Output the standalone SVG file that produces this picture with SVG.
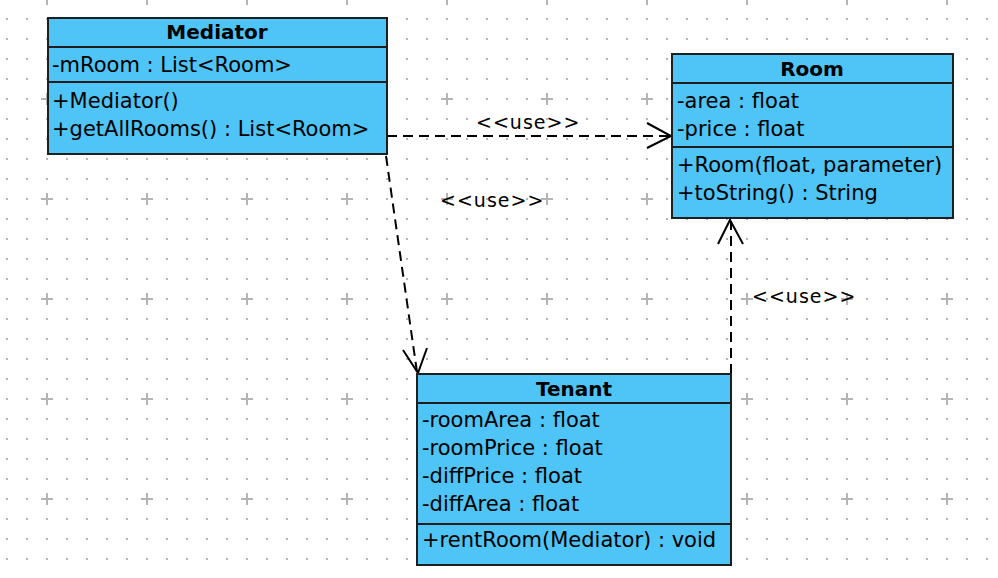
<svg xmlns="http://www.w3.org/2000/svg" width="998" height="578" viewBox="0 0 998 578">
  <defs>
    <pattern id="dots" x="0" y="0" width="20" height="20" patternUnits="userSpaceOnUse">
      <rect x="6" y="18" width="2" height="2" fill="#b4b4b4"/>
    </pattern>
    <pattern id="plus" x="0" y="0" width="100" height="100" patternUnits="userSpaceOnUse">
      <rect x="41" y="98" width="12" height="2" fill="#b4b4b4"/>
      <rect x="46" y="93" width="2" height="12" fill="#b4b4b4"/>
      <rect x="41" y="-2" width="12" height="2" fill="#b4b4b4"/>
      <rect x="46" y="-7" width="2" height="12" fill="#b4b4b4"/>
    </pattern>
    <style>
      .box { fill: #4ec4f7; stroke: #1e1e1e; stroke-width: 2; }
      .sep { stroke: #1e1e1e; stroke-width: 2; }
      .title { font-family: "DejaVu Sans", sans-serif; font-size: 20px; font-weight: bold; fill: #000; text-anchor: middle; }
      .txt { font-family: "DejaVu Sans", sans-serif; font-size: 21px; fill: #000; }
      .lbl { font-family: "DejaVu Sans", sans-serif; font-size: 19px; fill: #000; letter-spacing: 1px; }
      .dep { stroke: #000; stroke-width: 2; fill: none; stroke-dasharray: 10 6; }
      .head { stroke: #000; stroke-width: 2; fill: none; }
    </style>
  </defs>
  <rect width="998" height="578" fill="#fff"/>
  <rect width="998" height="578" fill="url(#dots)"/>
  <rect width="998" height="578" fill="url(#plus)"/>

  <g id="connectors">
    <g id="mediator-room">
      <line class="dep" x1="387" y1="136" x2="670" y2="136"/>
      <polyline class="head" points="647,123 671,136 647,148"/>
      <text class="lbl" x="476" y="129">&lt;&lt;use&gt;&gt;</text>
    </g>
    <g id="mediator-tenant">
      <line class="dep" x1="386" y1="156" x2="417" y2="372"/>
      <polyline class="head" points="403,350 418,373 427,348"/>
      <text class="lbl" x="440" y="207">&lt;&lt;use&gt;&gt;</text>
    </g>
    <g id="tenant-room">
      <line class="dep" x1="731" y1="374" x2="731" y2="221"/>
      <polyline class="head" points="718,244 730,220 743,244"/>
      <text class="lbl" x="752" y="303">&lt;&lt;use&gt;&gt;</text>
    </g>
  </g>

  <g id="Mediator">
    <rect class="box" x="48" y="18" width="339" height="136"/>
    <line class="sep" x1="48" y1="47" x2="387" y2="47"/>
    <line class="sep" x1="48" y1="82" x2="387" y2="82"/>
    <text class="title" x="217" y="39">Mediator</text>
    <text class="txt" x="52" y="72">-mRoom : List&lt;Room&gt;</text>
    <text class="txt" x="52" y="108">+Mediator()</text>
    <text class="txt" x="52" y="136">+getAllRooms() : List&lt;Room&gt;</text>
  </g>

  <g id="Room">
    <rect class="box" x="672" y="54" width="281" height="164"/>
    <line class="sep" x1="672" y1="83" x2="953" y2="83"/>
    <line class="sep" x1="672" y1="147" x2="953" y2="147"/>
    <text class="title" x="812" y="76">Room</text>
    <text class="txt" x="677" y="108">-area : float</text>
    <text class="txt" x="677" y="136">-price : float</text>
    <text class="txt" x="677" y="172">+Room(float, parameter)</text>
    <text class="txt" x="677" y="200">+toString() : String</text>
  </g>

  <g id="Tenant">
    <rect class="box" x="417" y="374" width="314" height="191"/>
    <line class="sep" x1="417" y1="403" x2="731" y2="403"/>
    <line class="sep" x1="417" y1="524" x2="731" y2="524"/>
    <text class="title" x="574" y="396">Tenant</text>
    <text class="txt" x="422" y="427">-roomArea : float</text>
    <text class="txt" x="422" y="455">-roomPrice : float</text>
    <text class="txt" x="422" y="483">-diffPrice : float</text>
    <text class="txt" x="422" y="511">-diffArea : float</text>
    <text class="txt" x="422" y="547">+rentRoom(Mediator) : void</text>
  </g>
</svg>
